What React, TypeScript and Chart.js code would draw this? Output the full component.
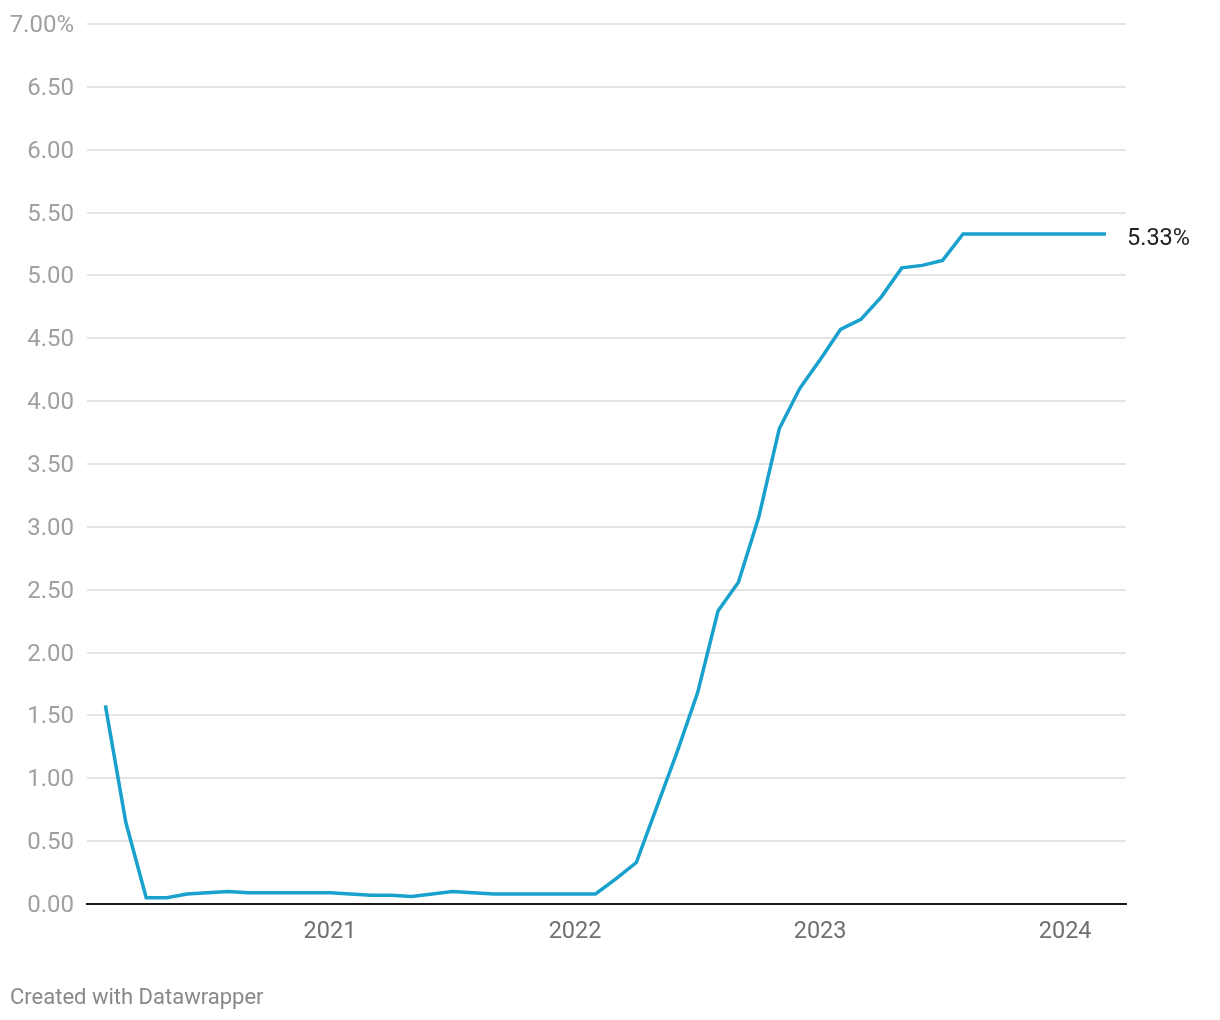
import React, { useEffect, useRef } from "react";
import { Chart, registerables } from "chart.js";

Chart.register(...registerables);

const months: string[] = [
  "2020-02", "2020-03", "2020-04", "2020-05", "2020-06", "2020-07", "2020-08", "2020-09", "2020-10", "2020-11", "2020-12",
  "2021-01", "2021-02", "2021-03", "2021-04", "2021-05", "2021-06", "2021-07", "2021-08", "2021-09", "2021-10", "2021-11", "2021-12",
  "2022-01", "2022-02", "2022-03", "2022-04", "2022-05", "2022-06", "2022-07", "2022-08", "2022-09", "2022-10", "2022-11", "2022-12",
  "2023-01", "2023-02", "2023-03", "2023-04", "2023-05", "2023-06", "2023-07", "2023-08", "2023-09", "2023-10", "2023-11", "2023-12",
  "2024-01", "2024-02", "2024-03",
];

const rates: number[] = [
  1.58, 0.65, 0.05, 0.05, 0.08, 0.09, 0.10, 0.09, 0.09, 0.09, 0.09,
  0.09, 0.08, 0.07, 0.07, 0.06, 0.08, 0.10, 0.09, 0.08, 0.08, 0.08, 0.08,
  0.08, 0.08, 0.20, 0.33, 0.77, 1.21, 1.68, 2.33, 2.56, 3.08, 3.78, 4.10,
  4.33, 4.57, 4.65, 4.83, 5.06, 5.08, 5.12, 5.33, 5.33, 5.33, 5.33, 5.33,
  5.33, 5.33, 5.33,
];

const yearTicks: number[] = [2021, 2022, 2023, 2024];
const yTicks: number[] = [0, 0.5, 1, 1.5, 2, 2.5, 3, 3.5, 4, 4.5, 5, 5.5, 6, 6.5, 7];

const FONT = "Roboto, 'Noto Sans', sans-serif";

function monthIndex(s: string): number {
  const [y, m] = s.split("-").map(Number);
  return (y - 2020) * 12 + (m - 1);
}

const endLabelPlugin = {
  id: "endLabel",
  afterDatasetsDraw(chart: any) {
    const meta = chart.getDatasetMeta(0);
    const pts = meta.data;
    if (!pts.length) return;
    const last = pts[pts.length - 1];
    const v = rates[rates.length - 1];
    const ctx = chart.ctx;
    ctx.save();
    ctx.font = `23.5px ${FONT}`;
    ctx.fillStyle = "#222";
    ctx.textAlign = "left";
    ctx.textBaseline = "middle";
    ctx.fillText(v.toFixed(2) + "%", last.x + 21, last.y + 5);
    ctx.restore();
  },
};

export default function App() {
  const ref = useRef<HTMLCanvasElement | null>(null);

  useEffect(() => {
    if (!ref.current) return;
    const data = months.map((m, i) => ({ x: monthIndex(m), y: rates[i] }));
    const chart = new Chart(ref.current, {
      type: "line",
      data: {
        datasets: [
          {
            data,
            borderColor: "#18a1cd",
            borderWidth: 3.5,
            pointRadius: 0,
            pointHoverRadius: 0,
            tension: 0,
            fill: false,
            borderJoinStyle: "miter",
          },
        ],
      },
      options: {
        animation: false,
        responsive: false,
        maintainAspectRatio: false,
        events: [],
        layout: { padding: { top: 24, right: 94, bottom: 0, left: 0 } },
        plugins: { legend: { display: false }, tooltip: { enabled: false } },
        scales: {
          x: {
            type: "linear",
            min: 0.1,
            max: 50.98,
            afterBuildTicks(scale: any) {
              scale.ticks = yearTicks.map((y) => ({ value: (y - 2020) * 12 }));
            },
            afterFit(scale: any) {
              scale.height = 116;
              scale.paddingLeft = 0;
              scale.paddingRight = 0;
            },
            ticks: {
              autoSkip: false,
              maxRotation: 0,
              padding: 14,
              color: "#707070",
              font: { family: FONT, size: 23.5 },
              callback(value: any) {
                return String(2020 + Math.round(Number(value) / 12));
              },
            },
            grid: { display: false, drawTicks: false },
            border: { display: true, color: "#1a1a1a", width: 2 },
          },
          y: {
            min: 0,
            max: 7,
            afterBuildTicks(scale: any) {
              scale.ticks = yTicks.map((v) => ({ value: v }));
            },
            afterFit(scale: any) {
              scale.width = 87;
              scale.paddingTop = 0;
              scale.paddingBottom = 0;
            },
            ticks: {
              padding: 13,
              labelOffset: 2,
              color: "#a0a0a0",
              font: { family: FONT, size: 24 },
              callback(value: any) {
                const v = Number(value);
                return v === 7 ? v.toFixed(2) + "%" : v.toFixed(2);
              },
            },
            grid: {
              drawTicks: false,
              lineWidth: 2,
              color: (c: any) => (c.tick && c.tick.value === 0 ? "rgba(0,0,0,0)" : "#e4e4e4"),
            },
            border: { display: false },
          },
        },
      },
      plugins: [endLabelPlugin],
    });
    return () => chart.destroy();
  }, []);

  return (
    <div style={{ position: "absolute", left: 0, top: 0, width: 1220, height: 1020, background: "#fff" }}>
      <canvas ref={ref} width={1220} height={1020} style={{ position: "absolute", left: 0, top: 0 }} />
      <div
        style={{
          position: "absolute",
          left: 10,
          top: 982,
          fontFamily: FONT,
          fontSize: 22,
          color: "#888",
          lineHeight: "30px",
        }}
      >
        Created with Datawrapper
      </div>
    </div>
  );
}
